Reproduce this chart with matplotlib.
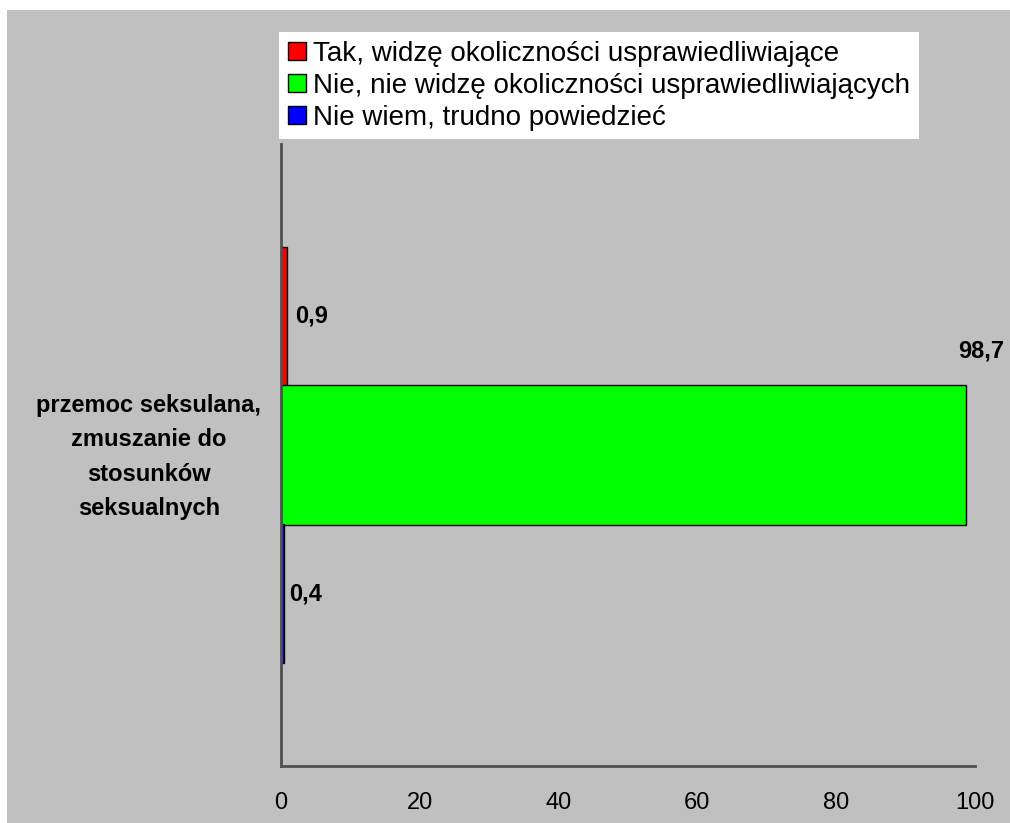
import matplotlib.pyplot as plt
from matplotlib.patches import Rectangle

plt.rcParams["font.family"] = ["Liberation Sans", "DejaVu Sans"]

category = "przemoc seksulana,\nzmuszanie do\nstosunków\nseksualnych"
series_names = [
    "Tak, widzę okoliczności usprawiedliwiające",
    "Nie, nie widzę okoliczności usprawiedliwiających",
    "Nie wiem, trudno powiedzieć",
]
values = [0.9, 98.7, 0.4]
value_labels = ["0,9", "98,7", "0,4"]
colors = ["#FF0000", "#00FF00", "#0000FF"]

# bar placement inside the axes (0 = top, 1 = bottom)
bar_centers = [0.2773, 0.5, 0.7227]
bar_height = 0.2235
label_offsets = [(6, 0), (-6, 75), (4, 0)]

bg = "#C0C0C0"
fig = plt.figure(figsize=(10.1, 8.23), dpi=100, facecolor="white")
fig.patches.append(Rectangle((7 / 1010, 0), 1, 813 / 823, transform=fig.transFigure,
                             facecolor=bg, edgecolor="none", zorder=-5))

ax = fig.add_axes([281 / 1010, 57 / 823, 694 / 1010, 622 / 823])
ax.set_facecolor("none")
ax.set_zorder(2)

handles = []
for i in range(len(values)):
    b = ax.barh(bar_centers[i], values[i], height=bar_height, color=colors[i],
                edgecolor="black", linewidth=1, zorder=2, label=series_names[i])
    handles.append(b)
    ax.annotate(value_labels[i], xy=(values[i], bar_centers[i]),
                xytext=label_offsets[i], textcoords="offset points",
                ha="left", va="center", fontsize=17, fontweight="bold", zorder=5)

ax.set_xlim(0, 100)
ax.set_ylim(1, 0)
ax.set_xticks([0, 20, 40, 60, 80, 100])
ax.tick_params(axis="x", length=0, pad=19, labelsize=17)
ax.set_yticks([])
for s in ["top", "right"]:
    ax.spines[s].set_visible(False)
for s in ["left", "bottom"]:
    ax.spines[s].set_color("#505050")
    ax.spines[s].set_linewidth(2)

fig.text(149 / 1010, 1 - 457 / 823, category, ha="center", va="center",
         fontsize=17, fontweight="bold", linespacing=1.62)

leg = fig.legend(handles=handles, loc="upper left", bbox_to_anchor=(279 / 1010, 1 - 32 / 823),
                 frameon=True, fancybox=False, framealpha=1, fontsize=20,
                 handlelength=0.65, handleheight=0.65,
                 handletextpad=0.25, labelspacing=0.21, borderpad=0.32, borderaxespad=0)
leg.get_frame().set_facecolor("white")
leg.get_frame().set_edgecolor("none")
leg.set_zorder(3)

fig.savefig("out.png", dpi=100, facecolor="white")
